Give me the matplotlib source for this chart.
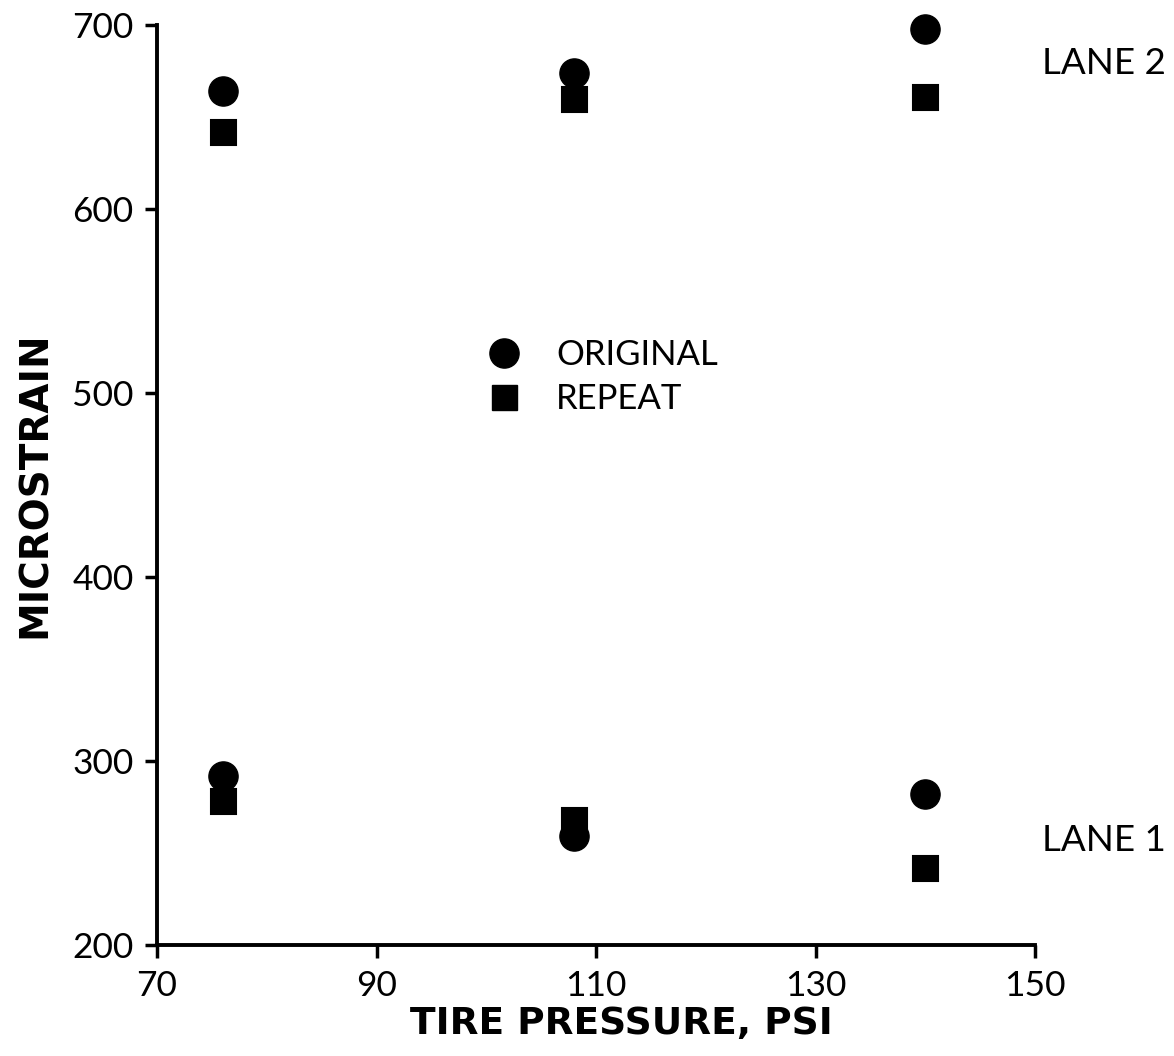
import matplotlib
matplotlib.use("Agg")
import matplotlib.pyplot as plt
from matplotlib.lines import Line2D

# Data
pressure = [76, 108, 140]
lane2_original = [664, 674, 698]
lane2_repeat = [642, 660, 661]
lane1_original = [292, 259, 282]
lane1_repeat = [278, 268, 242]
xticks = [70, 90, 110, 130, 150]
yticks = [200, 300, 400, 500, 600, 700]

plt.rcParams['font.family'] = ['Lato', 'DejaVu Sans']

fig = plt.figure(figsize=(11.74, 10.56), dpi=100)
L, R, T, B = 157, 1035, 25, 945
ax = fig.add_axes([L/1174, (1056-B)/1056, (R-L)/1174, (B-T)/1056])

ms_c = 21
ms_s = 18
kw_c = dict(linestyle='none', marker='o', color='black', markersize=ms_c, clip_on=False)
kw_s = dict(linestyle='none', marker='s', color='black', markersize=ms_s, clip_on=False,
            markeredgewidth=1.5, markeredgecolor='black')
ax.plot(pressure, lane2_original, **kw_c)
ax.plot(pressure, lane2_repeat, **kw_s)
ax.plot(pressure, lane1_original, **kw_c)
ax.plot(pressure, lane1_repeat, **kw_s)

ax.set_xlim(70, 150)
ax.set_ylim(200, 700)
ax.set_xticks(xticks)
ax.set_yticks(yticks)
ax.tick_params(axis='both', direction='out', length=9, width=2.5, color='black')
ax.tick_params(axis='x', pad=9, labelsize=25.5)
ax.tick_params(axis='y', pad=8, labelsize=25.5)
for s in ['top', 'right']:
    ax.spines[s].set_visible(False)
for s in ['left', 'bottom']:
    ax.spines[s].set_linewidth(2.8)

ax.set_xlabel('TIRE PRESSURE, PSI', family=['DejaVu Sans'],
              fontweight='bold', fontsize=27, labelpad=3)
ax.xaxis.label.set_x((621 - L) / (R - L))
ax.set_ylabel('MICROSTRAIN', family=['DejaVu Sans'],
              fontweight='bold', fontsize=28, labelpad=13)

ax.text(150.6, 679, 'LANE 2', fontsize=26.5, ha='left', va='center', clip_on=False)
ax.text(150.6, 257, 'LANE 1', fontsize=26.5, ha='left', va='center', clip_on=False)

handles = [Line2D([], [], linestyle='none', marker='o', color='black', markersize=ms_c),
           Line2D([], [], linestyle='none', marker='s', color='black', markersize=ms_s)]
leg = ax.legend(handles, ['ORIGINAL', 'REPEAT'], loc='center left',
                bbox_to_anchor=((466-L)/(R-L), 1 - (377-T)/(B-T)), frameon=False,
                fontsize=25, handletextpad=0.9, labelspacing=0.35, borderpad=0,
                handlelength=1.2)

fig.savefig('out.png', dpi=100)
